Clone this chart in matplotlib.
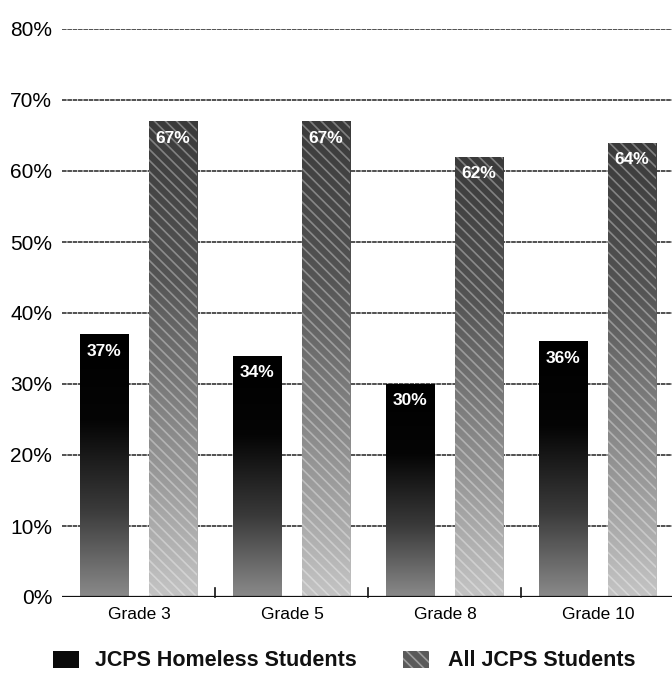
import numpy as np
import matplotlib
matplotlib.use("Agg")
import matplotlib.pyplot as plt
from matplotlib.patches import Rectangle
from matplotlib.colors import LinearSegmentedColormap

grades = ["Grade 3", "Grade 5", "Grade 8", "Grade 10"]
homeless = [37, 34, 30, 36]
all_students = [67, 67, 62, 64]
yticks = [0, 10, 20, 30, 40, 50, 60, 70, 80]
series_names = ["JCPS Homeless Students", "All JCPS Students"]

FONT = ["Liberation Sans Narrow", "Liberation Sans", "DejaVu Sans"]
plt.rcParams["font.family"] = FONT
plt.rcParams["hatch.linewidth"] = 1.2

fig = plt.figure(figsize=(6.72, 6.73), dpi=100)
ax = fig.add_axes([62 / 672, 1 - 597 / 673, 1 - 62 / 672, (597 - 29) / 673])

ax.set_xlim(-0.503, 3.484)
ax.set_ylim(0, 80)

# horizontal grid lines
for v in yticks[1:]:
    ax.axhline(v, color="#222222", lw=1.1, ls=(0, (3, 0.5)), zorder=0)
ax.axhline(0, color="#111111", lw=1.6, zorder=4)

cmap_dark = LinearSegmentedColormap.from_list("dark", ["#8a8a8a", "#3a3a3a", "#050505", "#000000"])
cmap_light = LinearSegmentedColormap.from_list("light", ["#c4c4c4", "#8c8c8c", "#555555", "#3a3a3a"])

x = np.arange(len(grades))
width = 0.314
off_h, off_a = -0.228, 0.222
grad = np.linspace(0, 1, 256).reshape(-1, 1)


def gradient_bars(xs, vals, cmap, hatch=None):
    bars = ax.bar(xs, vals, width=width, facecolor="none", edgecolor="none", zorder=2)
    for b in bars:
        x0, y0 = b.get_x(), b.get_y()
        w, h = b.get_width(), b.get_height()
        im = ax.imshow(grad, cmap=cmap, origin="lower", aspect="auto",
                       extent=[x0, x0 + w, y0, y0 + h], zorder=2, interpolation="bicubic")
        im.set_clip_path(b)
        if hatch:
            ax.add_patch(Rectangle((x0, y0), w, h, facecolor="none",
                                   edgecolor=(1, 1, 1, 0.35), hatch=hatch, lw=0, zorder=3))
    return bars


bh = gradient_bars(x + off_h, homeless, cmap_dark)
ba = gradient_bars(x + off_a, all_students, cmap_light, hatch="\\\\\\")

for xs, vals in ((x + off_h, homeless), (x + off_a, all_students)):
    for xi, v in zip(xs, vals):
        ax.text(xi, v - 1.3, f"{v}%", ha="center", va="top", color="white",
                fontsize=12.5, fontweight="bold", zorder=5)

# small separators between grade groups
for s in (0.5, 1.5, 2.5):
    ax.plot([s, s], [0, 1.3], color="#111111", lw=1.2, zorder=4, clip_on=False)

ax.set_yticks(yticks)
ax.set_yticklabels([f"{v}%" for v in yticks], fontsize=15)
ax.set_xticks(x)
ax.set_xticklabels(grades, fontsize=12.5)
ax.tick_params(axis="both", length=0)
ax.tick_params(axis="y", pad=7)
ax.tick_params(axis="x", pad=7)
for sp in ax.spines.values():
    sp.set_visible(False)

# legend row
ax_leg = fig.add_axes([0, 0, 1, 1], facecolor="none")
ax_leg.set_xlim(0, 672)
ax_leg.set_ylim(673, 0)
ax_leg.axis("off")
legend_items = ((53, 95, series_names[0], "#0a0a0a", None),
                (403, 448, series_names[1], "#5a5a5a", "\\\\\\"))
for sx, tx, name, col, hatch in legend_items:
    ax_leg.add_patch(Rectangle((sx, 651), 26, 17, facecolor=col, lw=0))
    if hatch:
        ax_leg.add_patch(Rectangle((sx, 651), 26, 17, facecolor="none",
                                   edgecolor=(1, 1, 1, 0.4), hatch=hatch, lw=0))
    ax_leg.text(tx, 660, name, ha="left", va="center", fontsize=15.5,
                fontweight="bold", color="#111111")

fig.savefig("out.png", dpi=100)
